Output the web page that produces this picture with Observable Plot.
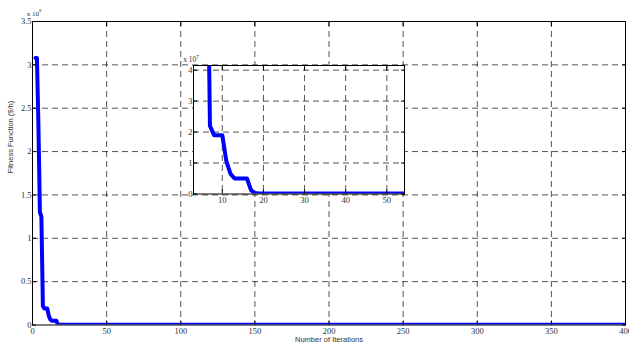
<!DOCTYPE html>
<html>
<head>
<meta charset="utf-8">
<script src="https://cdn.jsdelivr.net/npm/d3@7"></script>
<script src="https://cdn.jsdelivr.net/npm/@observablehq/plot@0.6"></script>
<style>
  html, body { margin: 0; padding: 0; background: white; }
  #wrap { position: relative; width: 629px; height: 347px; overflow: hidden; }
  #inset { position: absolute; left: 173px; top: 53px; }
</style>
</head>
<body>
<div id="wrap"><div id="main"></div><div id="inset"></div></div>
<script>
// Data
const iterations = [2, 3, 4, 5, 6, 7, 8, 9, 10, 11, 12, 13, 14, 15, 16, 17, 18, 19, 400];
const fitness = [3.08e8, 3.08e8, 2.3e8, 1.3e8, 1.25e8, 2.2e7, 1.9e7, 1.9e7, 1.9e7, 1.05e7, 0.65e7, 0.5e7, 0.5e7, 0.5e7, 0.5e7, 0.12e7, 0.03e7, 0.02e7, 0.02e7];

const mainXTicks = [0, 50, 100, 150, 200, 250, 300, 350, 400];
const mainYTicks = [0, 0.5e8, 1e8, 1.5e8, 2e8, 2.5e8, 3e8, 3.5e8];
const insetXTicks = [10, 20, 30, 40, 50];
const insetYTicks = [0, 1e7, 2e7, 3e7, 4e7];

const xLabel = "Number of Iterations";
const yLabel = "Fitness Function ($/h)";

const data = iterations.map((x, i) => ({x, y: fitness[i]}));

const serif = "Liberation Serif, Times New Roman, serif";
const sans = "Liberation Sans, Arial, sans-serif";
const grid = {stroke: "black", strokeOpacity: 0.85, strokeWidth: 0.8, strokeDasharray: "6,4"};

const main = Plot.plot({
  width: 629, height: 347,
  marginLeft: 32, marginRight: 4, marginTop: 21, marginBottom: 22.5,
  style: {fontFamily: serif, fontSize: "8.5px", background: "white", color: "#333"},
  x: {domain: [0, 400], label: null},
  y: {domain: [0, 3.5e8], label: null},
  marks: [
    Plot.gridX(mainXTicks.slice(1, -1), grid),
    Plot.gridY(mainYTicks.slice(1, -1), grid),
    Plot.line(data, {x: "x", y: "y", stroke: "#0000ff", strokeWidth: 4, clip: true}),
    Plot.frame({stroke: "black", strokeWidth: 1}),
    Plot.axisX(mainXTicks, {anchor: "bottom", tickSize: -4, tickPadding: 6.5, stroke: "black"}),
    Plot.axisX(mainXTicks, {anchor: "top", tickSize: -4, tickFormat: () => "", stroke: "black"}),
    Plot.axisY(mainYTicks, {anchor: "left", tickSize: -4, tickPadding: 5, tickFormat: d => d / 1e8, stroke: "black"}),
    Plot.axisY(mainYTicks, {anchor: "right", tickSize: -4, tickFormat: () => "", stroke: "black"}),
    Plot.text([xLabel], {text: d => d, frameAnchor: "bottom", dy: 17, fontFamily: sans, fontSize: 7.5, fill: "#333"}),
    Plot.text([yLabel], {text: d => d, frameAnchor: "left", dx: -22, rotate: -90, fontFamily: sans, fontSize: 7.5, fill: "#333"})
  ]
});
document.getElementById("main").appendChild(main);

const inset = Plot.plot({
  width: 235, height: 154.5,
  marginLeft: 20, marginRight: 4, marginTop: 12, marginBottom: 14,
  style: {fontFamily: serif, fontSize: "8.5px", background: "transparent", color: "#333"},
  x: {domain: [3, 54.3], label: null},
  y: {domain: [0, 4.15e7], label: null},
  marks: [
    Plot.frame({fill: "white", stroke: "none"}),
    Plot.gridX(insetXTicks, grid),
    Plot.gridY(insetYTicks.slice(1), grid),
    Plot.line(data, {x: "x", y: "y", stroke: "#0000ff", strokeWidth: 4, clip: true}),
    Plot.frame({stroke: "black", strokeWidth: 1}),
    Plot.axisX(insetXTicks, {anchor: "bottom", tickSize: -4, tickPadding: 6.5, stroke: "black"}),
    Plot.axisX(insetXTicks, {anchor: "top", tickSize: -4, tickFormat: () => "", stroke: "black"}),
    Plot.axisY(insetYTicks, {anchor: "left", tickSize: -4, tickPadding: 5, tickFormat: d => d / 1e7, stroke: "black"}),
    Plot.axisY(insetYTicks, {anchor: "right", tickSize: -4, tickFormat: () => "", stroke: "black"})
  ]
});
document.getElementById("inset").appendChild(inset);

// exponent annotations
function exponent(svg, x, y, base, exp, size) {
  const t = d3.select(svg).append("text")
    .attr("x", x).attr("y", y)
    .attr("font-family", serif).attr("font-size", size).attr("fill", "#333");
  t.append("tspan").text(base);
  t.append("tspan").attr("font-size", size * 0.7).attr("dy", -size * 0.45).text(exp);
}
exponent(main, 34, 15.5, "x 10", "8", 7);
exponent(inset, 18, 9, "x 10", "7", 7.5);
</script>
</body>
</html>
